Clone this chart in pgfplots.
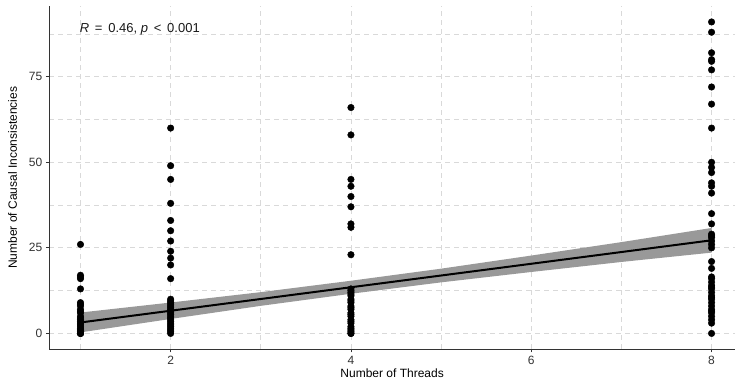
\documentclass[border=0pt]{standalone}
\usepackage{pgfplots}
\pgfplotsset{compat=1.18}
\usepackage{fontspec}
\setmainfont{Liberation Sans}
\definecolor{gridc}{HTML}{D9D9D9}
\definecolor{bandc}{HTML}{999999}
\definecolor{tickc}{HTML}{333333}
\begin{document}
\begin{tikzpicture}[x=1pt,y=1pt]
\begin{axis}[
  name=ax,
  scale only axis,
  width=685.7pt, height=342.6pt,
  xmin=0.654, xmax=8.26,
  ymin=-4.55, ymax=95.55,
  axis lines*=left,
  axis line style={black!80, line width=0.9pt},
  xtick={2,4,6,8},
  ytick={0,25,50,75},
  minor xtick={1,3,5,7},
  minor ytick={12.5,37.5,62.5,87.5},
  minor tick length=0pt,
  major tick length=3.5pt,
  tick align=outside,
  tick style={black!80, line width=0.8pt},
  grid=both,
  major grid style={gridc, line width=0.8pt, dash pattern=on 5pt off 4pt},
  minor grid style={gridc, line width=0.8pt, dash pattern=on 5pt off 4pt},
  /pgf/number format/assume math mode=true,
  ticklabel style={font=\fontsize{12}{14}\selectfont, text=tickc},
  xlabel={Number of Threads},
  ylabel={Number of Causal Inconsistencies},
  label style={font=\fontsize{12}{14}\selectfont},
  xlabel style={yshift=3pt},
  ylabel style={yshift=5pt},
  clip=false,
]
% confidence band
\addplot[draw=none, fill=bandc, forget plot] coordinates {
 (1,0.30) (2,4.23) (3,8.06) (4,11.59) (5,14.92) (6,17.95) (7,20.88) (8,23.61)
 (8,30.81) (7,26.68) (6,22.75) (5,18.92) (4,15.39) (3,12.06) (2,9.03) (1,6.10)
} -- cycle;
% points
\addplot[only marks, mark=*, mark size=3.3pt, black] coordinates {
 (1,26) (1,17) (1,16.5) (1,16) (1,13) (1,9) (1,8.5) (1,8) (1,7) (1,6.5) (1,6) (1,5) (1,4.5) (1,4) (1,3.5) (1,3) (1,2.5) (1,2) (1,1.5) (1,1) (1,1) (1,0.5) (1,0) (1,0) (1,0)
 (2,60) (2,49) (2,45) (2,38) (2,33) (2,30) (2,27) (2,24) (2,22) (2,20) (2,16) (2,10) (2,9.5) (2,9) (2,8.5) (2,8) (2,7.5) (2,7) (2,6.5) (2,6) (2,5.5) (2,5) (2,4.5) (2,4) (2,3.5) (2,3) (2,2.5) (2,2) (2,1.5) (2,1) (2,0.5) (2,0)
 (4,66) (4,58) (4,45) (4,43) (4,40) (4,37) (4,32) (4,31) (4,23) (4,13) (4,12.5) (4,12) (4,11.5) (4,11) (4,10) (4,9.5) (4,9) (4,8) (4,7.5) (4,7) (4,6) (4,5.5) (4,5) (4,4) (4,3.5) (4,3) (4,2) (4,1.5) (4,1) (4,0.5) (4,0) (4,0)
 (8,91) (8,88) (8,82) (8,80) (8,79.5) (8,77) (8,72) (8,67) (8,60) (8,50) (8,48.5) (8,47) (8,44) (8,43) (8,41) (8,35) (8,32) (8,29) (8,28.5) (8,28) (8,27) (8,26) (8,25) (8,21) (8,19) (8,16.5) (8,16) (8,15) (8,14) (8,13.5) (8,13) (8,12) (8,11) (8,10.5) (8,10) (8,9) (8,8) (8,7) (8,6.5) (8,6) (8,5) (8,4) (8,3) (8,0)
};
% regression line
\addplot[black, line width=2pt] coordinates {(1,3.20) (8,27.21)};
\node[anchor=west, inner sep=0pt, font=\fontsize{13}{15}\selectfont, text=black!90] at (axis cs:0.99,88.8) {\textit{R}\,\ =\ \,0.46, \textit{p}\,\ <\ \,0.001};
\end{axis}
\pgfresetboundingbox
\path ([shift={(-49.3pt,-32pt)}]ax.south west) rectangle ([shift={(0pt,6.4pt)}]ax.north east);
\end{tikzpicture}
\end{document}
